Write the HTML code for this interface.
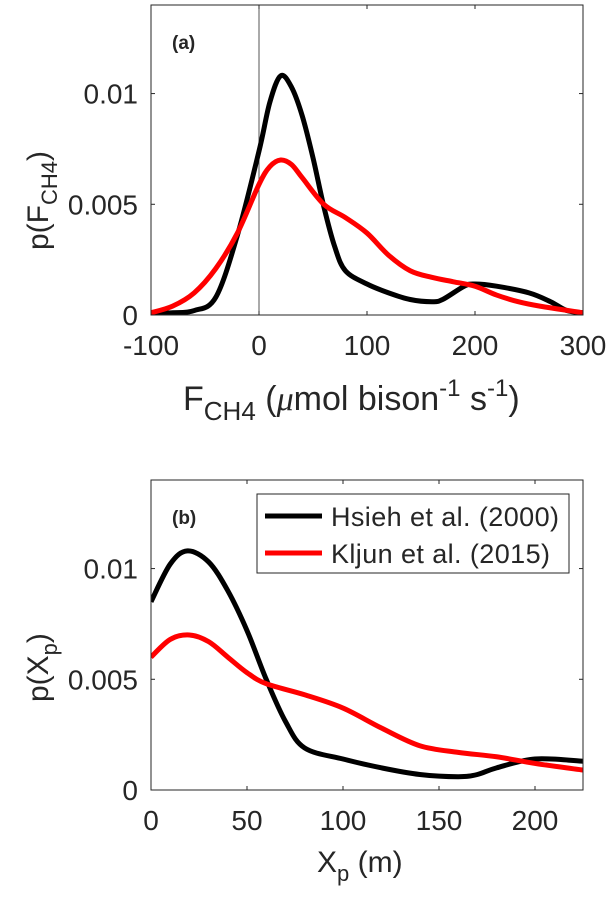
<!DOCTYPE html>
<html><head><meta charset="utf-8"><style>
body{margin:0;background:#fff;}
svg text{font-family:"Liberation Sans",Arial,sans-serif;fill:#262626;}
</style></head><body>
<svg id="s" width="614" height="902" xmlns="http://www.w3.org/2000/svg"></svg>
<script>
// Panel (a) data
const aX = [-100,-80,-60,-40,-20,0,10,20,30,40,50,60,70,80,100,120,140,160,170,190,200,220,250,270,285,300];
const aBlack = [0.0001,0.0001,0.0002,0.0008,0.0036,0.0074,0.0096,0.0108,0.0103,0.0090,0.0071,0.0049,0.0031,0.0020,0.0014,0.0010,0.0007,0.0006,0.0007,0.0013,0.0014,0.0013,0.0010,0.0006,0.0002,0.0001];
const aRX = [-100,-80,-60,-40,-20,0,10,20,30,40,60,80,100,120,140,160,180,200,220,240,260,300];
const aRed = [0.0001,0.0004,0.0010,0.0021,0.0037,0.0059,0.0067,0.0070,0.0068,0.0062,0.0050,0.0044,0.0037,0.0027,0.0020,0.0017,0.0015,0.0013,0.0009,0.0006,0.0004,0.0001];
const aXTicks = [-100,0,100,200,300];
const yTicks = [0,0.005,0.01];
const yTickLabels = ["0","0.005","0.01"];
// Panel (b) data
const bX = [0,10,19,30,40,50,60,70,80,100,120,140,160,170,180,200,225];
const bBlack = [0.0085,0.0102,0.0108,0.0103,0.0090,0.0072,0.0050,0.0031,0.0019,0.0014,0.0010,0.0007,0.0006,0.0007,0.0010,0.0014,0.0013];
const bRX = [0,10,20,30,40,50,60,80,100,120,140,160,180,200,225];
const bRed = [0.0060,0.0068,0.0070,0.0067,0.0060,0.0053,0.0048,0.0043,0.0037,0.0028,0.0020,0.0017,0.0015,0.0012,0.0009];
const bXTicks = [0,50,100,150,200];
const legendLabels = ["Hsieh et al. (2000)","Kljun et al. (2015)"];

const NS="http://www.w3.org/2000/svg";
const svg=document.getElementById('s');
function mk(tag,attrs,parent,text){const e=document.createElementNS(NS,tag);for(const k in attrs)e.setAttribute(k,attrs[k]);if(text!==undefined)e.textContent=text;(parent||svg).appendChild(e);return e;}
function smooth(pts){let d='M'+pts[0][0]+','+pts[0][1];for(let i=0;i<pts.length-1;i++){const p0=pts[Math.max(0,i-1)],p1=pts[i],p2=pts[i+1],p3=pts[Math.min(pts.length-1,i+2)];const c1=[p1[0]+(p2[0]-p0[0])/6,p1[1]+(p2[1]-p0[1])/6],c2=[p2[0]-(p3[0]-p1[0])/6,p2[1]-(p3[1]-p1[1])/6];d+=' C'+c1[0]+','+c1[1]+' '+c2[0]+','+c2[1]+' '+p2[0]+','+p2[1];}return d;}

function panel(o){
  const L=151,R=583,T=o.top,B=o.top+310;
  const sx=v=>L+(v-o.xmin)/(o.xmax-o.xmin)*(R-L);
  const sy=v=>B-v/0.014*(B-T);
  const g=mk('g',{});
  
  
  if(o.zeroLine){const zl=mk('line',{x1:sx(0),x2:sx(0),y1:T,y2:B,stroke:'#555','stroke-width':1},g);}
  const cl=mk('clipPath',{id:'c'+o.name},g);mk('rect',{x:L,y:T,width:R-L,height:B-T},cl);
  const series=[[o.xs,o.black,'#000'],[o.rxs,o.red,'#f00']];
  series.forEach((s,i)=>{const p=mk('path',{d:smooth(s[0].map((x,j)=>[sx(x),sy(s[1][j])])),fill:'none',stroke:s[2],'stroke-width':5,'stroke-linejoin':'round','clip-path':'url(#c'+o.name+')'},g);
    });
  const box=mk('rect',{x:L,y:T,width:R-L,height:B-T,fill:'none',stroke:'#262626','stroke-width':1},g);
  
  o.xticks.forEach(t=>{const x=sx(t);mk('line',{x1:x,x2:x,y1:B,y2:B-4,stroke:'#262626'},g);mk('line',{x1:x,x2:x,y1:T,y2:T+4,stroke:'#262626'},g);
    const tx=mk('text',{x:x,y:B+40,'text-anchor':'middle','font-size':28},g,String(t));});
  yTicks.forEach((t,i)=>{const y=sy(t);mk('line',{x1:L,x2:L+4,y1:y,y2:y,stroke:'#262626'},g);mk('line',{x1:R,x2:R-4,y1:y,y2:y,stroke:'#262626'},g);
    const tx=mk('text',{x:138,y:y+10,'text-anchor':'end','font-size':28},g,yTickLabels[i]);});
  const pl=mk('text',{x:172,y:T+44,'font-size':19,'font-weight':'bold',fill:'#000'},g,o.label);
  return {g,sx,sy,L,R,T,B};
}
const a=panel({name:'panel-a',top:5,xmin:-100,xmax:300,xs:aX,black:aBlack,rxs:aRX,red:aRed,xticks:aXTicks,zeroLine:true,label:'(a)'});
const b=panel({name:'panel-b',top:480,xmin:0,xmax:225,xs:bX,black:bBlack,rxs:bRX,red:bRed,xticks:bXTicks,zeroLine:false,label:'(b)'});

// axis titles
let t=mk('text',{x:183,y:410,'font-size':34});t.innerHTML='F<tspan font-size="26" dy="10">CH4</tspan><tspan dy="-10"> (</tspan><tspan font-style="italic" font-family="Liberation Serif">μ</tspan>mol bison<tspan font-size="24" dy="-14">-1</tspan><tspan dy="14"> s</tspan><tspan font-size="24" dy="-14">-1</tspan><tspan dy="14">)</tspan>';

t=mk('text',{transform:'translate(48,250) rotate(-90)','font-size':30});t.innerHTML='p(F<tspan font-size="22" dy="9">CH4</tspan><tspan dy="-9">)</tspan>';

t=mk('text',{x:317,y:872,'font-size':30});t.innerHTML='X<tspan font-size="22" dy="9">p</tspan><tspan dy="-9"> (m)</tspan>';

t=mk('text',{transform:'translate(48,702) rotate(-90)','font-size':30});t.innerHTML='p(X<tspan font-size="22" dy="9">p</tspan><tspan dy="-9">)</tspan>';


// legend
const lg=mk('g',{});


mk('rect',{x:257,y:494,width:312,height:79,fill:'#fff',stroke:'#262626'},lg);
['#000','#f00'].forEach((c,i)=>{const y=516+i*37;
  const ln=mk('line',{x1:265,x2:322,y1:y,y2:y,stroke:c,'stroke-width':5},lg);
  const tx=mk('text',{x:331,y:y+10,'font-size':27,fill:'#000',textLength:228},lg,legendLabels[i]);
  if(i===1)tx.setAttribute('textLength',219);});
</script>
</body></html>
